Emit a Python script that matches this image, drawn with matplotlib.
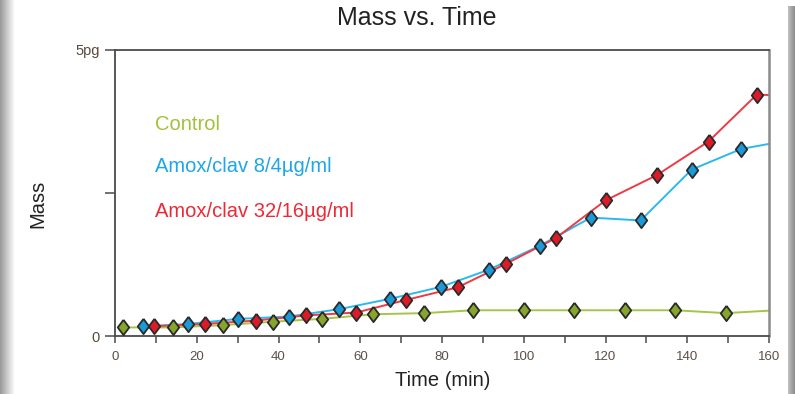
import numpy as np
import matplotlib.pyplot as plt
from matplotlib.ticker import MultipleLocator

# values (time in min, mass in pg)
control_t = [2, 14.2, 26.3, 38.7, 50.7, 63.2, 75.7, 87.7, 100.1, 112.3, 124.8, 137, 149.4, 161.8]
control_m = [0.15, 0.15, 0.19, 0.25, 0.30, 0.38, 0.40, 0.45, 0.45, 0.45, 0.45, 0.45, 0.40, 0.45]

amox8_t = [6.9, 17.9, 30.2, 42.6, 54.9, 67.3, 79.8, 91.5, 104, 116.4, 128.6, 141.1, 153.2, 165.5]
amox8_m = [0.17, 0.21, 0.30, 0.34, 0.47, 0.65, 0.86, 1.16, 1.58, 2.07, 2.02, 2.91, 3.27, 3.43]

amox32_t = [9.5, 21.9, 34.4, 46.7, 59, 71.2, 83.8, 95.6, 107.8, 120, 132.5, 145.2, 157, 169.3]
amox32_m = [0.17, 0.21, 0.27, 0.36, 0.41, 0.63, 0.85, 1.26, 1.71, 2.37, 2.81, 3.40, 4.22, 4.19]

labels = ['Control', 'Amox/clav 8/4\u00b5g/ml', 'Amox/clav 32/16\u00b5g/ml']
x_ticks = [0, 20, 40, 60, 80, 100, 120, 140, 160]
y_ticks = [0, 2.5, 5]
y_ticklabels = ['0', '', '5pg']

plt.rcParams['font.family'] = ['Liberation Sans', 'DejaVu Sans']

fig = plt.figure(figsize=(7.95, 3.94), dpi=100)
fig.patch.set_facecolor('white')

# gray page-edge bands like the scanned reference
band = fig.add_axes([0, 0, 15 / 795, 1])
band.imshow(np.linspace(0.6, 1.0, 64)[None, :] * np.ones((2, 1)),
            cmap='gray', vmin=0, vmax=1, aspect='auto')
band.axis('off')
band2 = fig.add_axes([788 / 795, 0, 7 / 795, 1 - 6 / 394])
band2.imshow(np.linspace(0.75, 0.55, 16)[None, :] * np.ones((2, 1)),
             cmap='gray', vmin=0, vmax=1, aspect='auto')
band2.axis('off')

ax = fig.add_axes([115 / 795, 58 / 394, 654 / 795, 286 / 394])

# diamond a bit narrower than tall
diamond = [(0, 1), (0.75, 0), (0, -1), (-0.75, 0), (0, 1)]

series = [
    (control_t, control_m, '#a6c34a', '#86a52a'),
    (amox8_t, amox8_m, '#2cb8ef', '#1a9ad8'),
    (amox32_t, amox32_m, '#ee3a44', '#dd1a28'),
]
for t, m, lc, mc in series:
    ax.plot(t, m, color=lc, lw=1.4, zorder=2)
    ax.plot(t, m, ls='none', marker=diamond, ms=11, mfc=mc, mec='#2a2a2a',
            mew=1.3, zorder=3)

ax.set_xlim(0, 160)
ax.set_ylim(0, 5)
ax.set_xticks(x_ticks)
ax.xaxis.set_minor_locator(MultipleLocator(10))
ax.set_yticks(y_ticks)
ax.set_yticklabels(y_ticklabels)

for sp in ax.spines.values():
    sp.set_color('#4a4a4a')
    sp.set_linewidth(1.3)
ax.spines['right'].set_color('#8a8a8a')
ax.spines['right'].set_linewidth(1.8)

ax.tick_params(axis='x', which='both', direction='out', length=5, width=1.1,
               color='#4a4a4a', labelsize=9.5, labelcolor='#5a5048', pad=6)
ax.tick_params(axis='y', direction='out', length=7, width=1.1,
               color='#4a4a4a', labelsize=10.5, labelcolor='#5a4a3a', pad=4)
for lab in ax.get_xticklabels():
    lab.set_family(['Liberation Sans Narrow', 'Liberation Sans'])

ax.text(0.061, 0.738, labels[0], color='#a3c13d', fontsize=14.5,
        va='center', transform=ax.transAxes)
ax.text(0.061, 0.591, labels[1], color='#1ea7e6', fontsize=14.5,
        va='center', transform=ax.transAxes)
ax.text(0.061, 0.437, labels[2], color='#ec2a36', fontsize=14.5,
        va='center', transform=ax.transAxes)

fig.text(417 / 795, 1 - 18 / 394, 'Mass vs. Time', fontsize=18,
         ha='center', va='center', color='#222222')
fig.text(38 / 795, 1 - 204 / 394, 'Mass', fontsize=14.5, rotation=90,
         ha='center', va='center', color='#222222')
fig.text(443 / 795, 1 - 380 / 394, 'Time (min)', fontsize=14.5,
         ha='center', va='center', color='#222222')

fig.savefig('out.png', dpi=100, facecolor='white')
